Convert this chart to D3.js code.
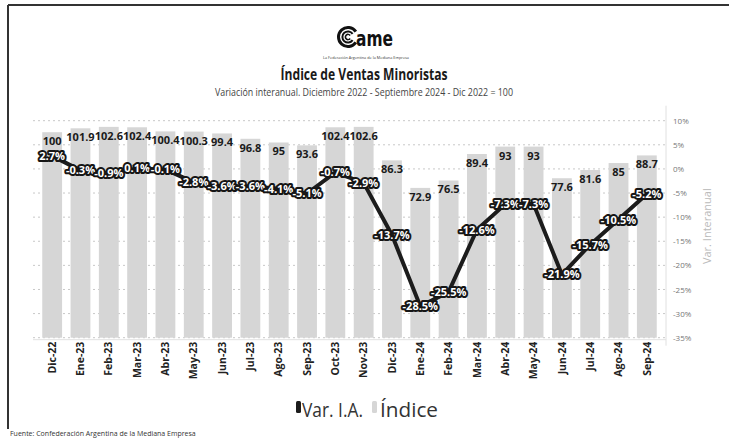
<!DOCTYPE html>
<html>
<head>
<meta charset="utf-8">
<script src="https://cdn.jsdelivr.net/npm/d3@7"></script>
<style>
  body { margin: 0; background: #fff; }
  svg { display: block; font-family: "Open Sans", sans-serif; }
</style>
</head>
<body>
<svg id="chart" width="729" height="438"></svg>
<script>
const months = ['Dic-22', 'Ene-23', 'Feb-23', 'Mar-23', 'Abr-23', 'May-23', 'Jun-23', 'Jul-23',
    'Ago-23', 'Sep-23', 'Oct-23', 'Nov-23', 'Dic-23', 'Ene-24', 'Feb-24', 'Mar-24', 'Abr-24',
    'May-24', 'Jun-24', 'Jul-24', 'Ago-24', 'Sep-24'];
const indice = [100, 101.9, 102.6, 102.4, 100.4, 100.3, 99.4, 96.8, 95, 93.6, 102.4, 102.6,
    86.3, 72.9, 76.5, 89.4, 93, 93, 77.6, 81.6, 85, 88.7];
const varIA = [2.7, -0.3, -0.9, 0.1, -0.1, -2.8, -3.6, -3.6, -4.1, -5.1, -0.7, -2.9,
    -13.7, -28.5, -25.5, -12.6, -7.3, -7.3, -21.9, -15.7, -10.5, -5.2];
const pctTicks = [10, 5, 0, -5, -10, -15, -20, -25, -30, -35];

const svg = d3.select('#chart');

function drawFrame() {
    svg.append('line').attr('x1', 8).attr('x2', 729).attr('y1', 5).attr('y2', 5)
        .attr('stroke', '#333').attr('stroke-width', 2);
    svg.append('line').attr('x1', 8).attr('x2', 8).attr('y1', 5).attr('y2', 429)
        .attr('stroke', '#333').attr('stroke-width', 2);
    svg.append('text').attr('x', 10).attr('y', 436)
        .attr('font-size', 7).attr('fill', '#333')
        .text('Fuente: Confederación Argentina de la Mediana Empresa');
}

function drawHeader() {
    // logo: concentric C plus "ame"
    const logo = svg.append('g').attr('transform', 'translate(348, 37)');
    const ring = d3.arc().startAngle(0.6).endAngle(2 * Math.PI - 0.6);
    [[8, 11], [4.6, 6.6], [1.8, 3.4]].forEach(r => {
        logo.append('path')
            .attr('d', ring.innerRadius(r[0]).outerRadius(r[1])())
            .attr('transform', 'rotate(90)')
            .attr('fill', '#111');
    });
    svg.append('text').attr('x', 356).attr('y', 46)
        .attr('font-family', 'DejaVu Sans').attr('font-weight', 700)
        .attr('font-size', 22).attr('fill', '#111')
        .attr('textLength', 37).attr('lengthAdjust', 'spacingAndGlyphs')
        .text('ame');
    svg.append('text').attr('x', 366).attr('y', 58.5).attr('text-anchor', 'middle')
        .attr('font-size', 4).attr('fill', '#333')
        .attr('textLength', 86).attr('lengthAdjust', 'spacingAndGlyphs')
        .text('La Federación Argentina de la Mediana Empresa');

    svg.append('text').attr('x', 364).attr('y', 80).attr('text-anchor', 'middle')
        .attr('font-size', 16).attr('font-weight', 700).attr('fill', '#1a1a1a')
        .attr('textLength', 167).attr('lengthAdjust', 'spacingAndGlyphs')
        .text('Índice de Ventas Minoristas');
    svg.append('text').attr('x', 364).attr('y', 96).attr('text-anchor', 'middle')
        .attr('font-size', 10).attr('fill', '#444')
        .attr('textLength', 298).attr('lengthAdjust', 'spacingAndGlyphs')
        .text('Variación interanual. Diciembre 2022 - Septiembre 2024 - Dic 2022 = 100');
}

function drawChart() {
    const top = 120.7, bottom = 337.7;
    const axisX = 666;

    const x = d3.scaleBand()
        .domain(months)
        .range([38, 661])
        .paddingInner(0.3)
        .paddingOuter(0.15);
    const yIdx = d3.scaleLinear().domain([0, 105.6]).range([bottom, top]);
    const yPct = d3.scaleLinear().domain([-35, 10]).range([bottom, top]);

    // grid
    svg.append('g').selectAll('line')
        .data(pctTicks)
        .enter().append('line')
        .attr('x1', 33).attr('x2', axisX)
        .attr('y1', d => yPct(d)).attr('y2', d => yPct(d))
        .attr('stroke', '#c8c8c8').attr('stroke-dasharray', '2,3');

    // bars
    svg.append('g').selectAll('rect')
        .data(indice)
        .enter().append('rect')
        .attr('x', (d, i) => x(months[i]))
        .attr('y', d => yIdx(d))
        .attr('width', x.bandwidth())
        .attr('height', d => bottom - yIdx(d))
        .attr('fill', '#d6d6d6');

    svg.append('g').selectAll('text')
        .data(indice)
        .enter().append('text')
        .attr('x', (d, i) => x(months[i]) + x.bandwidth() / 2)
        .attr('y', d => yIdx(d) + 13)
        .attr('text-anchor', 'middle')
        .attr('font-size', 11).attr('font-weight', 700).attr('fill', '#1a1a1a')
        .text(d => d);

    // baseline
    svg.append('line').attr('x1', 33).attr('x2', axisX).attr('y1', bottom + 2).attr('y2', bottom + 2)
        .attr('stroke', '#e2e2e2');

    // right axis
    const yAxis = d3.axisRight(yPct)
        .tickValues(pctTicks)
        .tickSize(0)
        .tickPadding(7)
        .tickFormat(d => d + '%');
    const ax = svg.append('g')
        .attr('transform', 'translate(' + axisX + ', 0)')
        .call(yAxis);
    ax.select('.domain').attr('stroke', '#e0e0e0').attr('d', 'M0,' + (top - 15) + 'V' + (bottom + 8));
    ax.selectAll('text').attr('font-size', 8).attr('fill', '#777').attr('font-family', 'Open Sans');

    svg.append('text')
        .attr('transform', 'translate(711, ' + ((top + bottom) / 2 - 3) + ') rotate(-90)')
        .attr('text-anchor', 'middle')
        .attr('font-size', 11).attr('fill', '#bbb')
        .text('Var. Interanual');

    // x labels
    const xAxis = d3.axisBottom(x).tickSize(0).tickPadding(0);
    const xa = svg.append('g')
        .attr('transform', 'translate(0, ' + (bottom + 4) + ')')
        .call(xAxis);
    xa.select('.domain').remove();
    xa.selectAll('text')
        .attr('transform', 'rotate(-90)')
        .attr('text-anchor', 'end')
        .attr('x', 0).attr('y', 0).attr('dy', '0.35em')
        .attr('font-size', 10.5).attr('font-weight', 700).attr('fill', '#222')
        .attr('font-family', 'Open Sans');

    // line
    const line = d3.line()
        .x((d, i) => x(months[i]) + x.bandwidth() / 2)
        .y(d => yPct(d));
    svg.append('path')
        .datum(varIA)
        .attr('d', line)
        .attr('fill', 'none')
        .attr('stroke', '#1c1c1c')
        .attr('stroke-width', 4)
        .attr('stroke-linejoin', 'round');

    svg.append('g').selectAll('text')
        .data(varIA)
        .enter().append('text')
        .attr('x', (d, i) => x(months[i]) + x.bandwidth() / 2)
        .attr('y', d => yPct(d))
        .attr('dy', '0.36em')
        .attr('text-anchor', 'middle')
        .attr('font-size', 11).attr('font-weight', 700)
        .attr('fill', '#fff')
        .attr('stroke', '#161616').attr('stroke-width', 4)
        .attr('stroke-linejoin', 'round')
        .attr('paint-order', 'stroke')
        .text(d => d + '%');
}

function drawLegend() {
    const g = svg.append('g');
    g.append('rect').attr('x', 296).attr('y', 401).attr('width', 5).attr('height', 12).attr('rx', 1.5)
        .attr('fill', '#1c1c1c');
    g.append('text').attr('x', 302).attr('y', 417)
        .attr('font-size', 20).attr('fill', '#333')
        .attr('textLength', 61).attr('lengthAdjust', 'spacingAndGlyphs')
        .text('Var. I.A.');
    g.append('rect').attr('x', 372).attr('y', 401).attr('width', 5).attr('height', 12).attr('rx', 1.5)
        .attr('fill', '#d6d6d6');
    g.append('text').attr('x', 380).attr('y', 417)
        .attr('font-size', 20).attr('fill', '#333')
        .attr('textLength', 58).attr('lengthAdjust', 'spacingAndGlyphs')
        .text('Índice');
}

drawFrame();
drawHeader();
drawChart();
drawLegend();
</script>
</body>
</html>
